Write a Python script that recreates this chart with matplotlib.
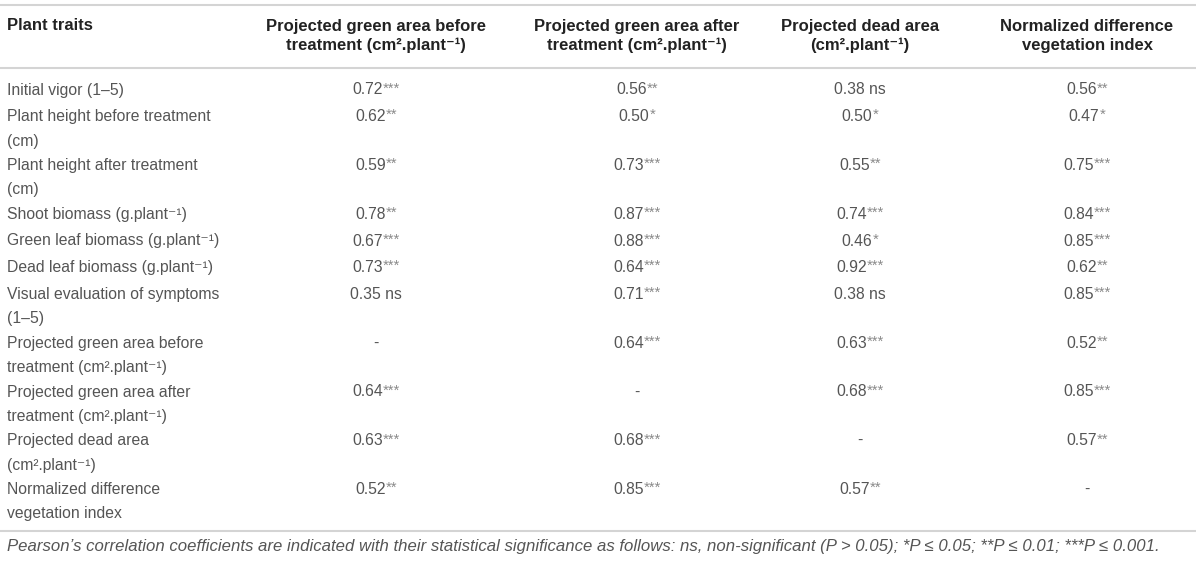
import numpy as np
import matplotlib
matplotlib.use("Agg")
import matplotlib.pyplot as plt

plt.rcParams['font.family'] = ['Liberation Sans', 'DejaVu Sans']

# table content
col_headers = [
    "Projected green area before\ntreatment (cm².plant⁻¹)",
    "Projected green area after\ntreatment (cm².plant⁻¹)",
    "Projected dead area\n(cm².plant⁻¹)",
    "Normalized difference\nvegetation index",
]
traits = [
    "Initial vigor (1–5)",
    "Plant height before treatment\n(cm)",
    "Plant height after treatment\n(cm)",
    "Shoot biomass (g.plant⁻¹)",
    "Green leaf biomass (g.plant⁻¹)",
    "Dead leaf biomass (g.plant⁻¹)",
    "Visual evaluation of symptoms\n(1–5)",
    "Projected green area before\ntreatment (cm².plant⁻¹)",
    "Projected green area after\ntreatment (cm².plant⁻¹)",
    "Projected dead area\n(cm².plant⁻¹)",
    "Normalized difference\nvegetation index",
]
# correlation coefficients (None = diagonal)
r_pga_before = [0.72, 0.62, 0.59, 0.78, 0.67, 0.73, 0.35, None, 0.64, 0.63, 0.52]
r_pga_after = [0.56, 0.50, 0.73, 0.87, 0.88, 0.64, 0.71, 0.64, None, 0.68, 0.85]
r_pda = [0.38, 0.50, 0.55, 0.74, 0.46, 0.92, 0.38, 0.63, 0.68, None, 0.57]
r_ndvi = [0.56, 0.47, 0.75, 0.84, 0.85, 0.62, 0.85, 0.52, 0.85, 0.57, None]
# significance labels
s_pga_before = ["***", "**", "**", "**", "***", "***", "ns", "", "***", "***", "**"]
s_pga_after = ["**", "*", "***", "***", "***", "***", "***", "***", "", "***", "***"]
s_pda = ["ns", "*", "**", "***", "*", "***", "ns", "***", "***", "", "**"]
s_ndvi = ["**", "*", "***", "***", "***", "**", "***", "**", "***", "**", ""]

footnote = ("Pearson’s correlation coefficients are indicated with their statistical "
            "significance as follows: ns, non-significant (P > 0.05); *P ≤ 0.05; "
            "**P ≤ 0.01; ***P ≤ 0.001.")

fig = plt.figure(figsize=(12, 5.62), dpi=100)
ax = fig.add_axes([0, 0, 1, 1])
ax.set_xlim(0, 1200)
ax.set_ylim(562, 0)
ax.axis('off')
renderer = fig.canvas.get_renderer()

line_col = '#d4d4d4'
head_col = '#222222'
body_col = '#555555'
star_col = '#8a8a8a'
fs = 11.3
fs_head = 12
top_off = 6.5   # first-line centre to top of text box, px

# horizontal rules
for y in [5, 68, 531]:
    ax.plot([0, 1196], [y, y], color=line_col, lw=1.5, solid_capstyle='butt')

# header
col_x = [376, 637, 860, 1087]
ax.text(7, 26, "Plant traits", fontsize=fs_head, fontweight='bold', color=head_col,
        va='center', ha='left')
for cx, h in zip(col_x, col_headers):
    ax.text(cx, 36, h, fontsize=fs_head, fontweight='bold', color=head_col,
            va='center', ha='center', linespacing=1.35)


def px_width(t):
    return t.get_window_extent(renderer=renderer).width


# body rows
cols_r = [r_pga_before, r_pga_after, r_pda, r_ndvi]
cols_s = [s_pga_before, s_pga_after, s_pda, s_ndvi]
y = 89
for i, t in enumerate(traits):
    nlines = t.count("\n") + 1
    yt = y - top_off
    ax.text(7, yt, t, fontsize=fs, color=body_col, va='top', ha='left',
            linespacing=1.78)
    for cx, rr, ss in zip(col_x, cols_r, cols_s):
        if rr[i] is None:
            ax.text(cx, yt, "-", fontsize=fs, color=body_col, va='top', ha='center')
            continue
        if ss[i] == "ns":
            num, star = f"{rr[i]:.2f} ns", ""
        else:
            num, star = f"{rr[i]:.2f}", ss[i]
        tn = ax.text(0, yt, num, fontsize=fs, color=body_col, va='top', ha='left')
        # stars a little smaller and raised, like superscripts
        ts = ax.text(0, yt - 1, star, fontsize=fs * 0.95, color=star_col,
                     va='top', ha='left')
        wn = px_width(tn)
        ws = px_width(ts) if star else 0
        x0 = cx - (wn + ws) / 2
        tn.set_x(x0)
        ts.set_x(x0 + wn)
    y += 4.6 + 22.1 * nlines

ax.text(7, 547, footnote, fontsize=12.1, style='italic', color=body_col,
        va='center', ha='left')

fig.savefig("out.png", dpi=100, facecolor='white')
